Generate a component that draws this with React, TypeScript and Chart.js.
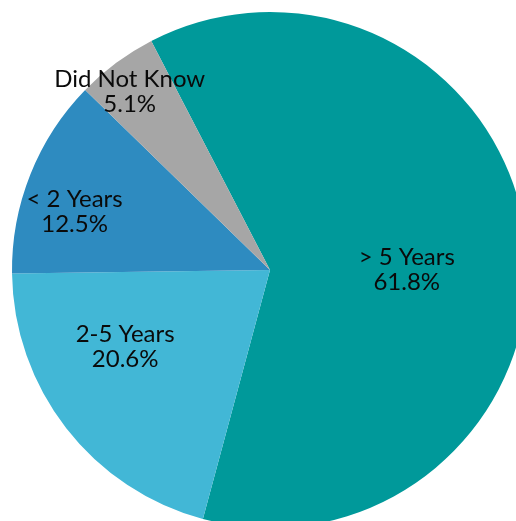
import React, { useEffect, useRef } from "react";
import { Chart, registerables } from "chart.js";

Chart.register(...registerables);

const categories = ["> 5 Years", "2-5 Years", "< 2 Years", "Did Not Know"];
const percentages = [61.8, 20.6, 12.5, 5.1];
const sliceColors = ["#00999A", "#42B7D6", "#2E8BC0", "#A6A6A6"];
// label placement: [fraction of radius, angle offset from slice middle in degrees]
const labelRadius = [0.53, 0.635, 0.79, 0.878];
const labelAngleOffset = [6, 10, -5.2, -1.7];

const labelPlugin = {
  id: "sliceLabels",
  afterDatasetsDraw(chart: any) {
    const ctx = chart.ctx;
    const meta = chart.getDatasetMeta(0);
    ctx.save();
    ctx.fillStyle = "#0a0a0a";
    ctx.font = "24px Lato, 'Liberation Sans', sans-serif";
    ctx.textAlign = "center";
    ctx.textBaseline = "middle";
    meta.data.forEach((arc: any, i: number) => {
      const { x, y, startAngle, endAngle, outerRadius } = arc.getProps(
        ["x", "y", "startAngle", "endAngle", "outerRadius"],
        true
      );
      const mid = (startAngle + endAngle) / 2 + (labelAngleOffset[i] * Math.PI) / 180;
      const r = outerRadius * labelRadius[i];
      const cx = x + Math.cos(mid) * r;
      const cy = y + Math.sin(mid) * r;
      ctx.fillText(categories[i], cx, cy - 12.5);
      ctx.fillText(percentages[i].toFixed(1) + "%", cx, cy + 12.5);
    });
    ctx.restore();
  },
};

export default function App() {
  const ref = useRef<HTMLCanvasElement | null>(null);
  useEffect(() => {
    if (!ref.current) return;
    const chart = new Chart(ref.current, {
      type: "pie",
      data: {
        labels: categories,
        datasets: [
          {
            data: percentages,
            backgroundColor: sliceColors,
            borderWidth: 0,
          },
        ],
      },
      options: {
        responsive: false,
        animation: false,
        rotation: -27.4,
        layout: { padding: 12 },
        plugins: {
          legend: { display: false },
          tooltip: { enabled: false },
        },
      },
      plugins: [labelPlugin],
    });
    return () => chart.destroy();
  }, []);
  return (
    <div
      style={{
        position: "fixed",
        left: 0,
        top: 0,
        width: 516,
        height: 521,
        overflow: "hidden",
        background: "#fff",
      }}
    >
      <canvas ref={ref} width={540} height={540} style={{ display: "block" }} />
    </div>
  );
}
